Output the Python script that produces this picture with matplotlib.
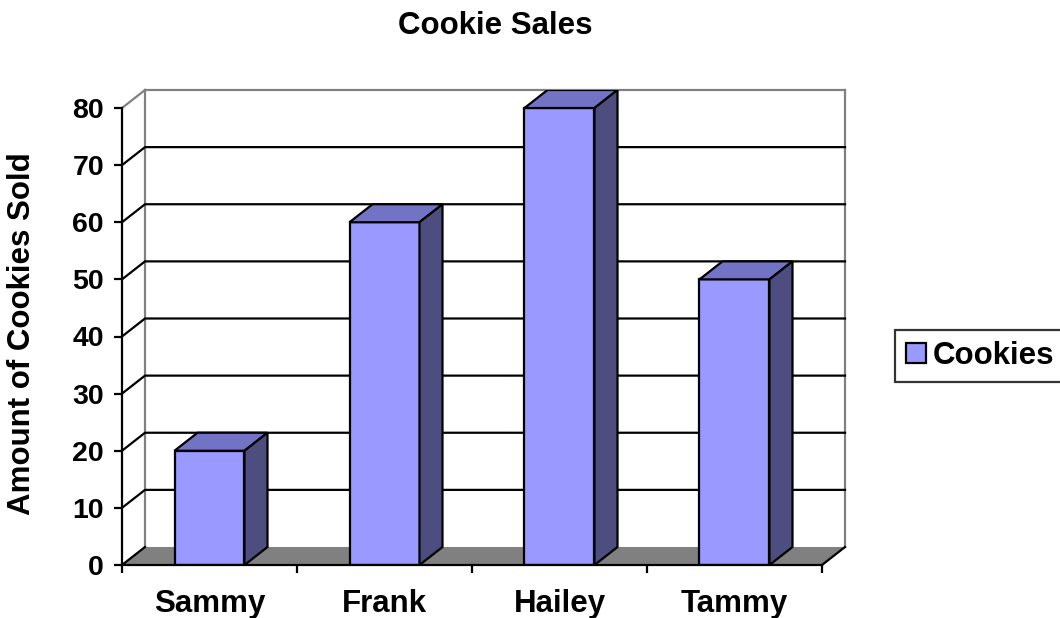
import matplotlib
matplotlib.use("Agg")
import matplotlib.pyplot as plt
from matplotlib.patches import Polygon, Patch

categories = ["Sammy", "Frank", "Hailey", "Tammy"]
values = [20, 60, 80, 50]
series_name = "Cookies"
yticks = [0, 10, 20, 30, 40, 50, 60, 70, 80]

plt.rcParams['font.family'] = ['Liberation Sans', 'DejaVu Sans']
plt.rcParams['font.weight'] = 'bold'

W, H = 1060, 618
fig = plt.figure(figsize=(W / 100, H / 100), dpi=100)

# layout in pixels
x0, x1 = 122, 845      # front-left to back-right
y0, y1 = 565, 90       # front-bottom to back-top
ax = fig.add_axes([x0 / W, 1 - y0 / H, (x1 - x0) / W, (y0 - y1) / H])

n = len(categories)
ymax = 80
px_per_cat = 175.0
px_per_val = (565 - 108) / ymax
dx = 23 / px_per_cat     # depth offset in data units
dy = 18 / px_per_val

ax.set_xlim(0, n + dx)
ax.set_ylim(0, ymax + dy)

front = "#9999FF"
top = "#7373C6"
side = "#4D4D80"
grey = "#808080"
lw = 1.6
fs = 22.5

# back wall edges
ax.plot([dx, n + dx], [ymax + dy, ymax + dy], color=grey, lw=lw, zorder=1, clip_on=False)
ax.plot([dx, dx], [dy, ymax + dy], color=grey, lw=lw, zorder=1, clip_on=False)
ax.plot([n + dx, n + dx], [dy, ymax + dy], color=grey, lw=lw, zorder=1, clip_on=False)
ax.plot([0, dx], [ymax, ymax + dy], color=grey, lw=lw, zorder=1, clip_on=False)

# gridlines (side wall diagonal + back wall)
for v in yticks[1:-1]:
    ax.plot([0, dx, n + dx], [v, v + dy, v + dy], color="black", lw=lw, zorder=1, clip_on=False)

# floor
floor = Polygon([(0, 0), (n, 0), (n + dx, dy), (dx, dy)], closed=True,
                facecolor=grey, edgecolor="none", zorder=2)
ax.add_patch(floor)
ax.plot([n, n + dx], [0, dy], color="black", lw=lw, zorder=3, clip_on=False)
ax.plot([0, dx], [0, dy], color="black", lw=lw, zorder=3, clip_on=False)

# bars
bw = 0.4
for i, v in enumerate(values):
    l = i + 0.5 - bw / 2
    r = l + bw
    ax.add_patch(Polygon([(l, 0), (r, 0), (r, v), (l, v)], closed=True,
                         facecolor=front, edgecolor="black", lw=lw, zorder=4, joinstyle="miter"))
    ax.add_patch(Polygon([(l, v), (r, v), (r + dx, v + dy), (l + dx, v + dy)], closed=True,
                         facecolor=top, edgecolor="black", lw=lw, zorder=4, joinstyle="miter"))
    ax.add_patch(Polygon([(r, 0), (r + dx, dy), (r + dx, v + dy), (r, v)], closed=True,
                         facecolor=side, edgecolor="black", lw=lw, zorder=4, joinstyle="miter"))

# axes / spines
for s in ["top", "right"]:
    ax.spines[s].set_visible(False)
ax.spines["left"].set_bounds(0, ymax)
ax.spines["bottom"].set_bounds(0, n)
for s in ["left", "bottom"]:
    ax.spines[s].set_linewidth(lw)
    ax.spines[s].set_zorder(5)

ax.set_yticks(yticks)
ax.set_yticklabels([str(t) for t in yticks])
ax.tick_params(axis="y", direction="out", length=6, width=lw, pad=7, labelsize=20.5)

ax.set_xticks(range(n + 1))
ax.set_xticklabels([])
ax.set_xticks([i + 0.5 for i in range(n)], minor=True)
ax.set_xticklabels(categories, minor=True, fontsize=fs, fontweight="bold")
ax.tick_params(axis="x", which="major", direction="out", length=6, width=lw)
ax.tick_params(axis="x", which="minor", length=0, pad=17)
for lab in ax.get_yticklabels():
    lab.set_fontweight("bold")

fig.text(495 / W, 1 - 26 / H, "Cookie Sales", ha="center", va="center",
         fontsize=fs, fontweight="bold")
fig.text(22 / W, 1 - 334 / H, "Amount of Cookies Sold", ha="center", va="center",
         rotation=90, fontsize=fs, fontweight="bold")

handle = Patch(facecolor=front, edgecolor="black", lw=lw)
leg = fig.legend(handles=[handle], labels=[series_name], loc="center left",
                 bbox_to_anchor=(895 / W, 1 - 356 / H),
                 prop={"weight": "bold", "size": fs},
                 frameon=True, fancybox=False, borderpad=0.35,
                 handlelength=0.65, handleheight=0.65, handletextpad=0.2,
                 borderaxespad=0)
leg.get_frame().set_edgecolor("black")
leg.get_frame().set_linewidth(lw)

fig.savefig("out.png", dpi=100)
